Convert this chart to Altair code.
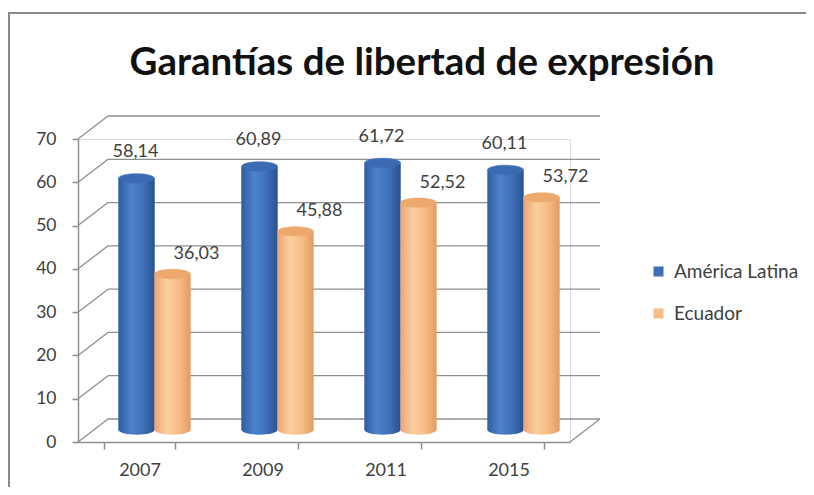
import altair as alt
import pandas as pd

years = ["2007", "2009", "2011", "2015"]
series = ["América Latina", "Ecuador"]
america = [58.14, 60.89, 61.72, 60.11]
ecuador = [36.03, 45.88, 52.52, 53.72]
ticks = [0, 10, 20, 30, 40, 50, 60, 70]
title_text = "Garantías de libertad de expresión"

rows = []
for s, vals in zip(series, [america, ecuador]):
    for y, v in zip(years, vals):
        rows.append({"year": y, "series": s, "value": v,
                     "label": f"{v:.2f}".replace(".", ",")})
df = pd.DataFrame(rows)
tick_df = pd.DataFrame({"tick": ticks})
zero_df = pd.DataFrame({"tick": [0]})
one_df = pd.DataFrame({"t": [title_text]})

W, H = 492, 303
DX, DY = 30, -23
SX, SY = 15, -12
FONT = "Lato"
GRID = "#8f8f8f"
TXT = "#404040"

ysc = alt.Scale(domain=[0, 70], nice=False, zero=True)
xsc_front = alt.Scale(domain=years, paddingInner=0.415, paddingOuter=0.2075)
xsc_data = alt.Scale(domain=years, paddingInner=0.415, paddingOuter=0.2075, range=[SX, W + SX])
osc = alt.Scale(domain=series, paddingInner=0, paddingOuter=0)

border = alt.Chart(one_df).mark_rect(fillOpacity=0, stroke="#8a8a8a", strokeWidth=2).encode(
    x=alt.value(-69), x2=alt.value(W + 400), y=alt.value(-126), y2=alt.value(H + 200))

title = alt.Chart(one_df).mark_text(font=FONT, fontSize=38.5, fontWeight="bold", color="#111111",
                                    align="center", baseline="alphabetic").encode(
    x=alt.value(344), y=alt.value(-64), text="t:N")

back_grid = alt.Chart(tick_df).mark_rule(color=GRID, strokeWidth=1.3, yOffset=DY).encode(
    y=alt.Y("tick:Q", scale=ysc, title=None), x=alt.value(DX), x2=alt.value(W + DX))

diag = alt.Chart(tick_df).mark_rule(color=GRID, strokeWidth=1.3, y2Offset=DY).encode(
    y=alt.Y("tick:Q", scale=ysc, title=None), y2="tick:Q", x=alt.value(0), x2=alt.value(DX))

floor_diag = alt.Chart(zero_df).mark_rule(color=GRID, strokeWidth=1.3, y2Offset=DY).encode(
    y=alt.Y("tick:Q", scale=ysc, title=None), y2="tick:Q", x=alt.value(W), x2=alt.value(W + DX))

axis_layer = alt.Chart(df).mark_bar(opacity=0).encode(
    x=alt.X("year:N", scale=xsc_front, sort=years, title=None,
            axis=alt.Axis(labelAngle=0, tickBand="extent", domainColor=GRID, domainWidth=1.5,
                          tickColor=GRID, tickWidth=1.5, tickSize=7, labelPadding=12,
                          labelFont=FONT, labelFontSize=18, labelColor=TXT, grid=False)),
    y=alt.Y("value:Q", scale=ysc, title=None,
            axis=alt.Axis(values=ticks, domainColor=GRID, domainWidth=1.5, tickColor=GRID,
                          tickWidth=1.5, tickSize=6, labelPadding=16, labelFont=FONT,
                          labelFontSize=17.5, labelColor=TXT, grid=False)))

xenc = alt.X("year:N", scale=xsc_data, sort=years, title=None, axis=None)
oenc = alt.XOffset("series:N", scale=osc, sort=series)
yenc = alt.Y("value:Q", scale=ysc, title=None)

base_bars = alt.Chart(df).mark_bar(yOffset=SY, y2Offset=SY).encode(
    x=xenc, xOffset=oenc, y=yenc, y2=alt.datum(0),
    color=alt.Color("series:N", sort=series,
                    scale=alt.Scale(domain=series, range=["#3f6fb6", "#f7bb88"]),
                    legend=alt.Legend(title=None, orient="none", legendX=571, legendY=123,
                                      symbolType="square", symbolSize=100, labelFont=FONT,
                                      labelFontSize=19, labelColor=TXT, rowPadding=22,
                                      symbolStrokeWidth=0, padding=0, labelOffset=6)))

def grad(stops):
    return alt.Gradient(gradient="linear", x1=0, x2=1, y1=0, y2=0,
                        stops=[alt.GradientStop(color=c, offset=o) for o, c in stops])

blue_g = grad([(0, "#305e9f"), (0.35, "#4c83cc"), (0.7, "#3e6fb7"), (1, "#2a528f")])
orange_g = grad([(0, "#eca476"), (0.35, "#fbcf9e"), (0.7, "#f6ba84"), (1, "#e39b62")])
blue_top = "#3b6bb3"
orange_top = "#eda86e"

ELL = "M -1 0 A 1 0.26 0 1 1 1 0 A 1 0.26 0 1 1 -1 0 Z"
BW = 123 * 0.585 / 2
SIZE = BW * BW

data_layers = [base_bars]
for s, g, top, ldx, ldy in [("América Latina", blue_g, blue_top, -1, -33),
                            ("Ecuador", orange_g, orange_top, 24, -27)]:
    sub = alt.Chart(df).transform_filter(alt.datum.series == s)
    bottom = sub.mark_point(shape=ELL, size=SIZE, filled=True, color=g, opacity=1,
                            yOffset=SY).encode(x=xenc, xOffset=oenc, y=alt.datum(0))
    bars = sub.mark_bar(color=g, yOffset=SY, y2Offset=SY).encode(
        x=xenc, xOffset=oenc, y=yenc, y2=alt.datum(0))
    tops = sub.mark_point(shape=ELL, size=SIZE, filled=True, color=top, opacity=1,
                          stroke=top, strokeWidth=0.5, yOffset=SY).encode(
        x=xenc, xOffset=oenc, y=yenc)
    text = sub.mark_text(font=FONT, fontSize=18, color=TXT, dx=ldx, dy=ldy,
                         baseline="alphabetic", align="center").encode(
        x=xenc, xOffset=oenc, y=yenc, text="label:N")
    data_layers += [bottom, bars, tops, text]

data = alt.layer(*data_layers)

chart = alt.layer(border, title, back_grid, diag, floor_diag, axis_layer, data).resolve_scale(
    x="independent").properties(
    width=W, height=H,
    autosize=alt.AutoSizeParams(type="none"),
    padding={"left": 70, "top": 131, "right": 236, "bottom": 45},
).configure_view(stroke=None).configure(background="white")

chart.save("out.html", embed_options={"renderer": "svg", "actions": False})
